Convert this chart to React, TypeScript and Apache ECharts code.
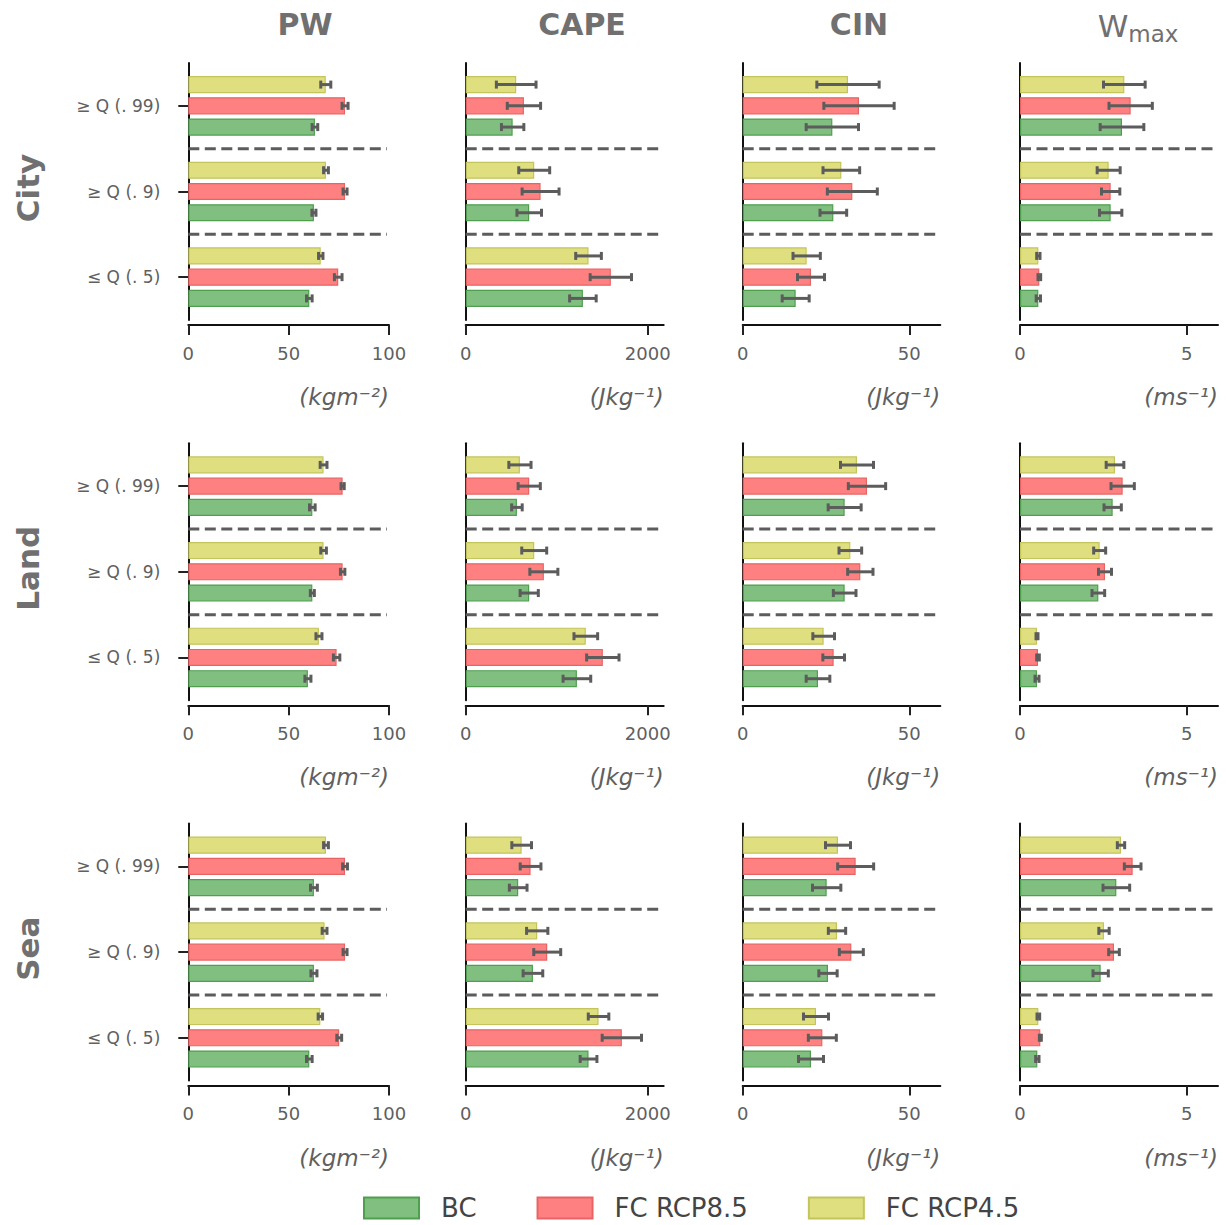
import React, { useEffect, useRef } from 'react';
import * as echarts from 'echarts';

const FONT = 'DejaVu Sans';

// y categories (bottom -> top)
const categories = ['≤ Q (. 5)', '≥ Q (. 9)', '≥ Q (. 99)'];
const scenarios = ['BC', 'FC RCP8.5', 'FC RCP4.5'];
const variables = ['PW', 'CAPE', 'CIN', 'Wmax'];
const regions = ['City', 'Land', 'Sea'];
const units = ['(kgm⁻²)', '(Jkg⁻¹)', '(Jkg⁻¹)', '(ms⁻¹)'];
const xMax = [100, 2176, 59.3, 5.94];
const xTicks = [[0, 50, 100], [0, 2000], [0, 50], [0, 5]];

// each panel: [BC, RCP8.5, RCP4.5] x [≤Q(.5), ≥Q(.9), ≥Q(.99)]
const cityPW = [[60.3, 62.6, 63.1], [74.7, 78.1, 78.1], [66.0, 68.6, 68.5]];
const cityPWErr = [[1.4, 1.0, 1.4], [1.9, 1.0, 1.5], [1.1, 1.2, 2.5]];
const cityCAPE = [[1288, 698, 516], [1595, 823, 640], [1350, 753, 555]];
const cityCAPEErr = [[146, 135, 123], [227, 203, 183], [141, 170, 218]];
const cityCIN = [[15.9, 27.2, 26.9], [20.5, 32.9, 34.9], [19.2, 29.6, 31.6]];
const cityCINErr = [[4.05, 4.0, 7.85], [4.05, 7.5, 10.55], [4.1, 5.5, 9.35]];
const cityWmax = [[0.55, 2.72, 3.06], [0.58, 2.72, 3.32], [0.55, 2.66, 3.13]];
const cityWmaxErr = [[0.065, 0.335, 0.655], [0.04, 0.275, 0.65], [0.05, 0.345, 0.625]];

const landPW = [[59.6, 61.8, 61.8], [73.9, 76.9, 76.9], [65.1, 67.4, 67.4]];
const landPWErr = [[1.5, 1.0, 1.4], [1.6, 1.1, 0.8], [1.5, 1.4, 1.7]];
const landCAPE = [[1222, 698, 563], [1507, 859, 698], [1320, 753, 596]];
const landCAPEErr = [[152, 100, 58], [178, 154, 122], [130, 137, 122]];
const landCIN = [[22.6, 30.6, 30.6], [27.3, 35.3, 37.3], [24.3, 32.3, 34.3]];
const landCINErr = [[3.55, 3.4, 4.95], [3.25, 3.8, 5.6], [3.25, 3.4, 4.95]];
const landWmax = [[0.51, 2.35, 2.78], [0.54, 2.55, 3.08], [0.51, 2.39, 2.85]];
const landWmaxErr = [[0.06, 0.19, 0.26], [0.04, 0.195, 0.35], [0.03, 0.18, 0.265]];

const seaPW = [[60.3, 62.6, 62.6], [75.2, 78.1, 78.1], [65.8, 67.9, 68.6]];
const seaPWErr = [[1.4, 1.5, 1.7], [1.2, 1.0, 1.2], [1.1, 1.2, 1.2]];
const seaCAPE = [[1350, 739, 577], [1716, 896, 713], [1460, 786, 615]];
const seaCAPEErr = [[92, 108, 97], [216, 148, 114], [113, 117, 108]];
const seaCIN = [[20.5, 25.6, 25.2], [23.9, 32.6, 33.9], [22.0, 28.3, 28.6]];
const seaCINErr = [[3.75, 2.75, 4.25], [4.2, 3.6, 5.4], [3.75, 2.6, 3.75]];
const seaWmax = [[0.52, 2.42, 2.89], [0.61, 2.82, 3.38], [0.55, 2.52, 3.03]];
const seaWmaxErr = [[0.05, 0.23, 0.4], [0.03, 0.16, 0.25], [0.04, 0.155, 0.11]];

const panelValues = [
  [cityPW, cityCAPE, cityCIN, cityWmax],
  [landPW, landCAPE, landCIN, landWmax],
  [seaPW, seaCAPE, seaCIN, seaWmax],
];
const panelErrors = [
  [cityPWErr, cityCAPEErr, cityCINErr, cityWmaxErr],
  [landPWErr, landCAPEErr, landCINErr, landWmaxErr],
  [seaPWErr, seaCAPEErr, seaCINErr, seaWmaxErr],
];

const fills = ['#80bf80', '#ff8080', '#dfdf80'];
const edges = ['#4f9f4f', '#e86464', '#c4c45c'];

const gridLeft = [188.3, 465.7, 742.7, 1020];
const gridWidth = [200.7, 198, 197.6, 198];
const gridTop0 = 63;
const rowStep = 380.3;
const gridHeight = 257;

// order of bars top->bottom within a group: RCP4.5, RCP8.5, BC
const drawOrder = [2, 1, 0];
const BAR_FRAC = 0.2;
const GAP_FRAC = 0.24;

function buildOption() {
  const grid: any[] = [];
  const xAxis: any[] = [];
  const yAxis: any[] = [];
  const series: any[] = [];
  const graphic: any[] = [];

  for (let r = 0; r < 3; r++) {
    for (let c = 0; c < 4; c++) {
      const idx = r * 4 + c;
      grid.push({ left: gridLeft[c], top: gridTop0 + rowStep * r, width: gridWidth[c], height: gridHeight });
      xAxis.push({
        type: 'value', gridIndex: idx, min: 0, max: xMax[c], offset: 5,
        axisLine: { show: true, lineStyle: { color: '#111', width: 2 } },
        axisTick: { show: true, length: 10, lineStyle: { color: '#222', width: 2 }, customValues: xTicks[c] },
        axisLabel: { customValues: xTicks[c], formatter: (v: number) => String(v), fontSize: 18, color: '#606060', margin: 19, fontFamily: FONT },
        splitLine: { show: false },
      });
      yAxis.push({
        type: 'category', gridIndex: idx, data: categories, offset: 8,
        axisLine: { show: true, lineStyle: { color: '#111', width: 2 } },
        axisTick: { show: c === 0, alignWithLabel: true, length: 10, lineStyle: { color: '#222', width: 2 } },
        axisLabel: { show: c === 0, fontSize: 17, color: '#606060', margin: 20, fontFamily: FONT },
        splitLine: { show: false },
      });
      const vals = panelValues[r][c];
      const errs = panelErrors[r][c];
      drawOrder.forEach((s) => {
        series.push({
          type: 'bar', name: scenarios[s], xAxisIndex: idx, yAxisIndex: idx,
          data: vals[s], barWidth: BAR_FRAC * 100 + '%', barGap: GAP_FRAC * 100 + '%',
          itemStyle: { color: fills[s], borderColor: edges[s], borderWidth: 1.2 },
          silent: true, z: 2,
        });
      });
      drawOrder.forEach((s, k) => {
        series.push({
          type: 'custom', name: 'err-' + scenarios[s], xAxisIndex: idx, yAxisIndex: idx,
          data: vals[s].map((v, ci) => [v, ci, errs[s][ci]]),
          encode: { x: 0, y: 1 }, silent: true, z: 5,
          renderItem: (params: any, api: any) => {
            const v = api.value(0), ci = api.value(1), e = api.value(2);
            const band = api.size([0, 1])[1];
            const pitch = band * BAR_FRAC * (1 + GAP_FRAC);
            const p1 = api.coord([v - e, ci]);
            const p2 = api.coord([v + e, ci]);
            const y = p1[1] + (k - 1) * pitch;
            const st = { stroke: '#5c5c5c', lineWidth: 3 };
            return {
              type: 'group', children: [
                { type: 'line', shape: { x1: p1[0], y1: y, x2: p2[0], y2: y }, style: st },
                { type: 'line', shape: { x1: p1[0], y1: y - 4, x2: p1[0], y2: y + 4 }, style: st },
                { type: 'line', shape: { x1: p2[0], y1: y - 4, x2: p2[0], y2: y + 4 }, style: st },
              ],
            };
          },
        });
      });
      series.push({
        type: 'custom', name: 'sep', xAxisIndex: idx, yAxisIndex: idx,
        data: [[0, 0], [0, 1]], encode: { x: 0, y: 1 }, silent: true, z: 3,
        renderItem: (params: any, api: any) => {
          const ci = api.value(1);
          const p = api.coord([0, ci]);
          const band = api.size([0, 1])[1];
          const y = p[1] - band / 2;
          const cs = params.coordSys;
          return {
            type: 'line', shape: { x1: cs.x, y1: y, x2: cs.x + cs.width - 2, y2: y },
            style: { stroke: '#5c5c5c', lineWidth: 3, lineDash: [11, 5.5] },
          };
        },
      });
      graphic.push({
        type: 'text', x: gridLeft[c] + gridWidth[c], y: 397 + rowStep * r,
        style: { text: units[c], align: 'right', verticalAlign: 'middle', fontSize: 23, fontStyle: 'italic', fontFamily: FONT, fill: '#606060' },
      });
    }
    graphic.push({
      type: 'text', x: 28, y: 188 + rowStep * r, rotation: Math.PI / 2,
      style: { text: regions[r], align: 'center', verticalAlign: 'middle', fontSize: 31, fontWeight: 'bold', fontFamily: FONT, fill: '#707070' },
    });
  }
  const titleX = [305, 582, 859, 1138];
  variables.forEach((v, c) => {
    if (v === 'Wmax') {
      graphic.push({
        type: 'text', x: titleX[c], y: 26,
        style: {
          text: '{w|W}{s|max}', align: 'center', verticalAlign: 'middle',
          rich: {
            w: { fontSize: 31, fontFamily: FONT, fill: '#707070' },
            s: { fontSize: 23, fontFamily: FONT, fill: '#707070', padding: [16, 0, 0, 0] },
          },
        },
      });
    } else {
      graphic.push({
        type: 'text', x: titleX[c], y: 24,
        style: { text: v, align: 'center', verticalAlign: 'middle', fontSize: 30, fontWeight: 'bold', fontFamily: FONT, fill: '#707070' },
      });
    }
  });

  return {
    animation: false,
    backgroundColor: '#ffffff',
    grid, xAxis, yAxis, series, graphic,
    legend: {
      data: scenarios, left: 363, top: 1195, padding: 0, itemWidth: 55, itemHeight: 21, itemGap: 60,
      icon: 'rect', selectedMode: false,
      itemStyle: { borderWidth: 2 },
      textStyle: { fontSize: 26, color: '#444', fontFamily: FONT, padding: [0, 0, 0, 17] },
    },
  };
}

export default function App() {
  const ref = useRef<HTMLDivElement>(null);
  useEffect(() => {
    if (!ref.current) return;
    const chart = echarts.init(ref.current, undefined, { renderer: 'svg' });
    chart.setOption(buildOption() as any);
    return () => chart.dispose();
  }, []);
  return <div ref={ref} style={{ position: 'fixed', left: 0, top: 0, width: 1226, height: 1225 }} />;
}
